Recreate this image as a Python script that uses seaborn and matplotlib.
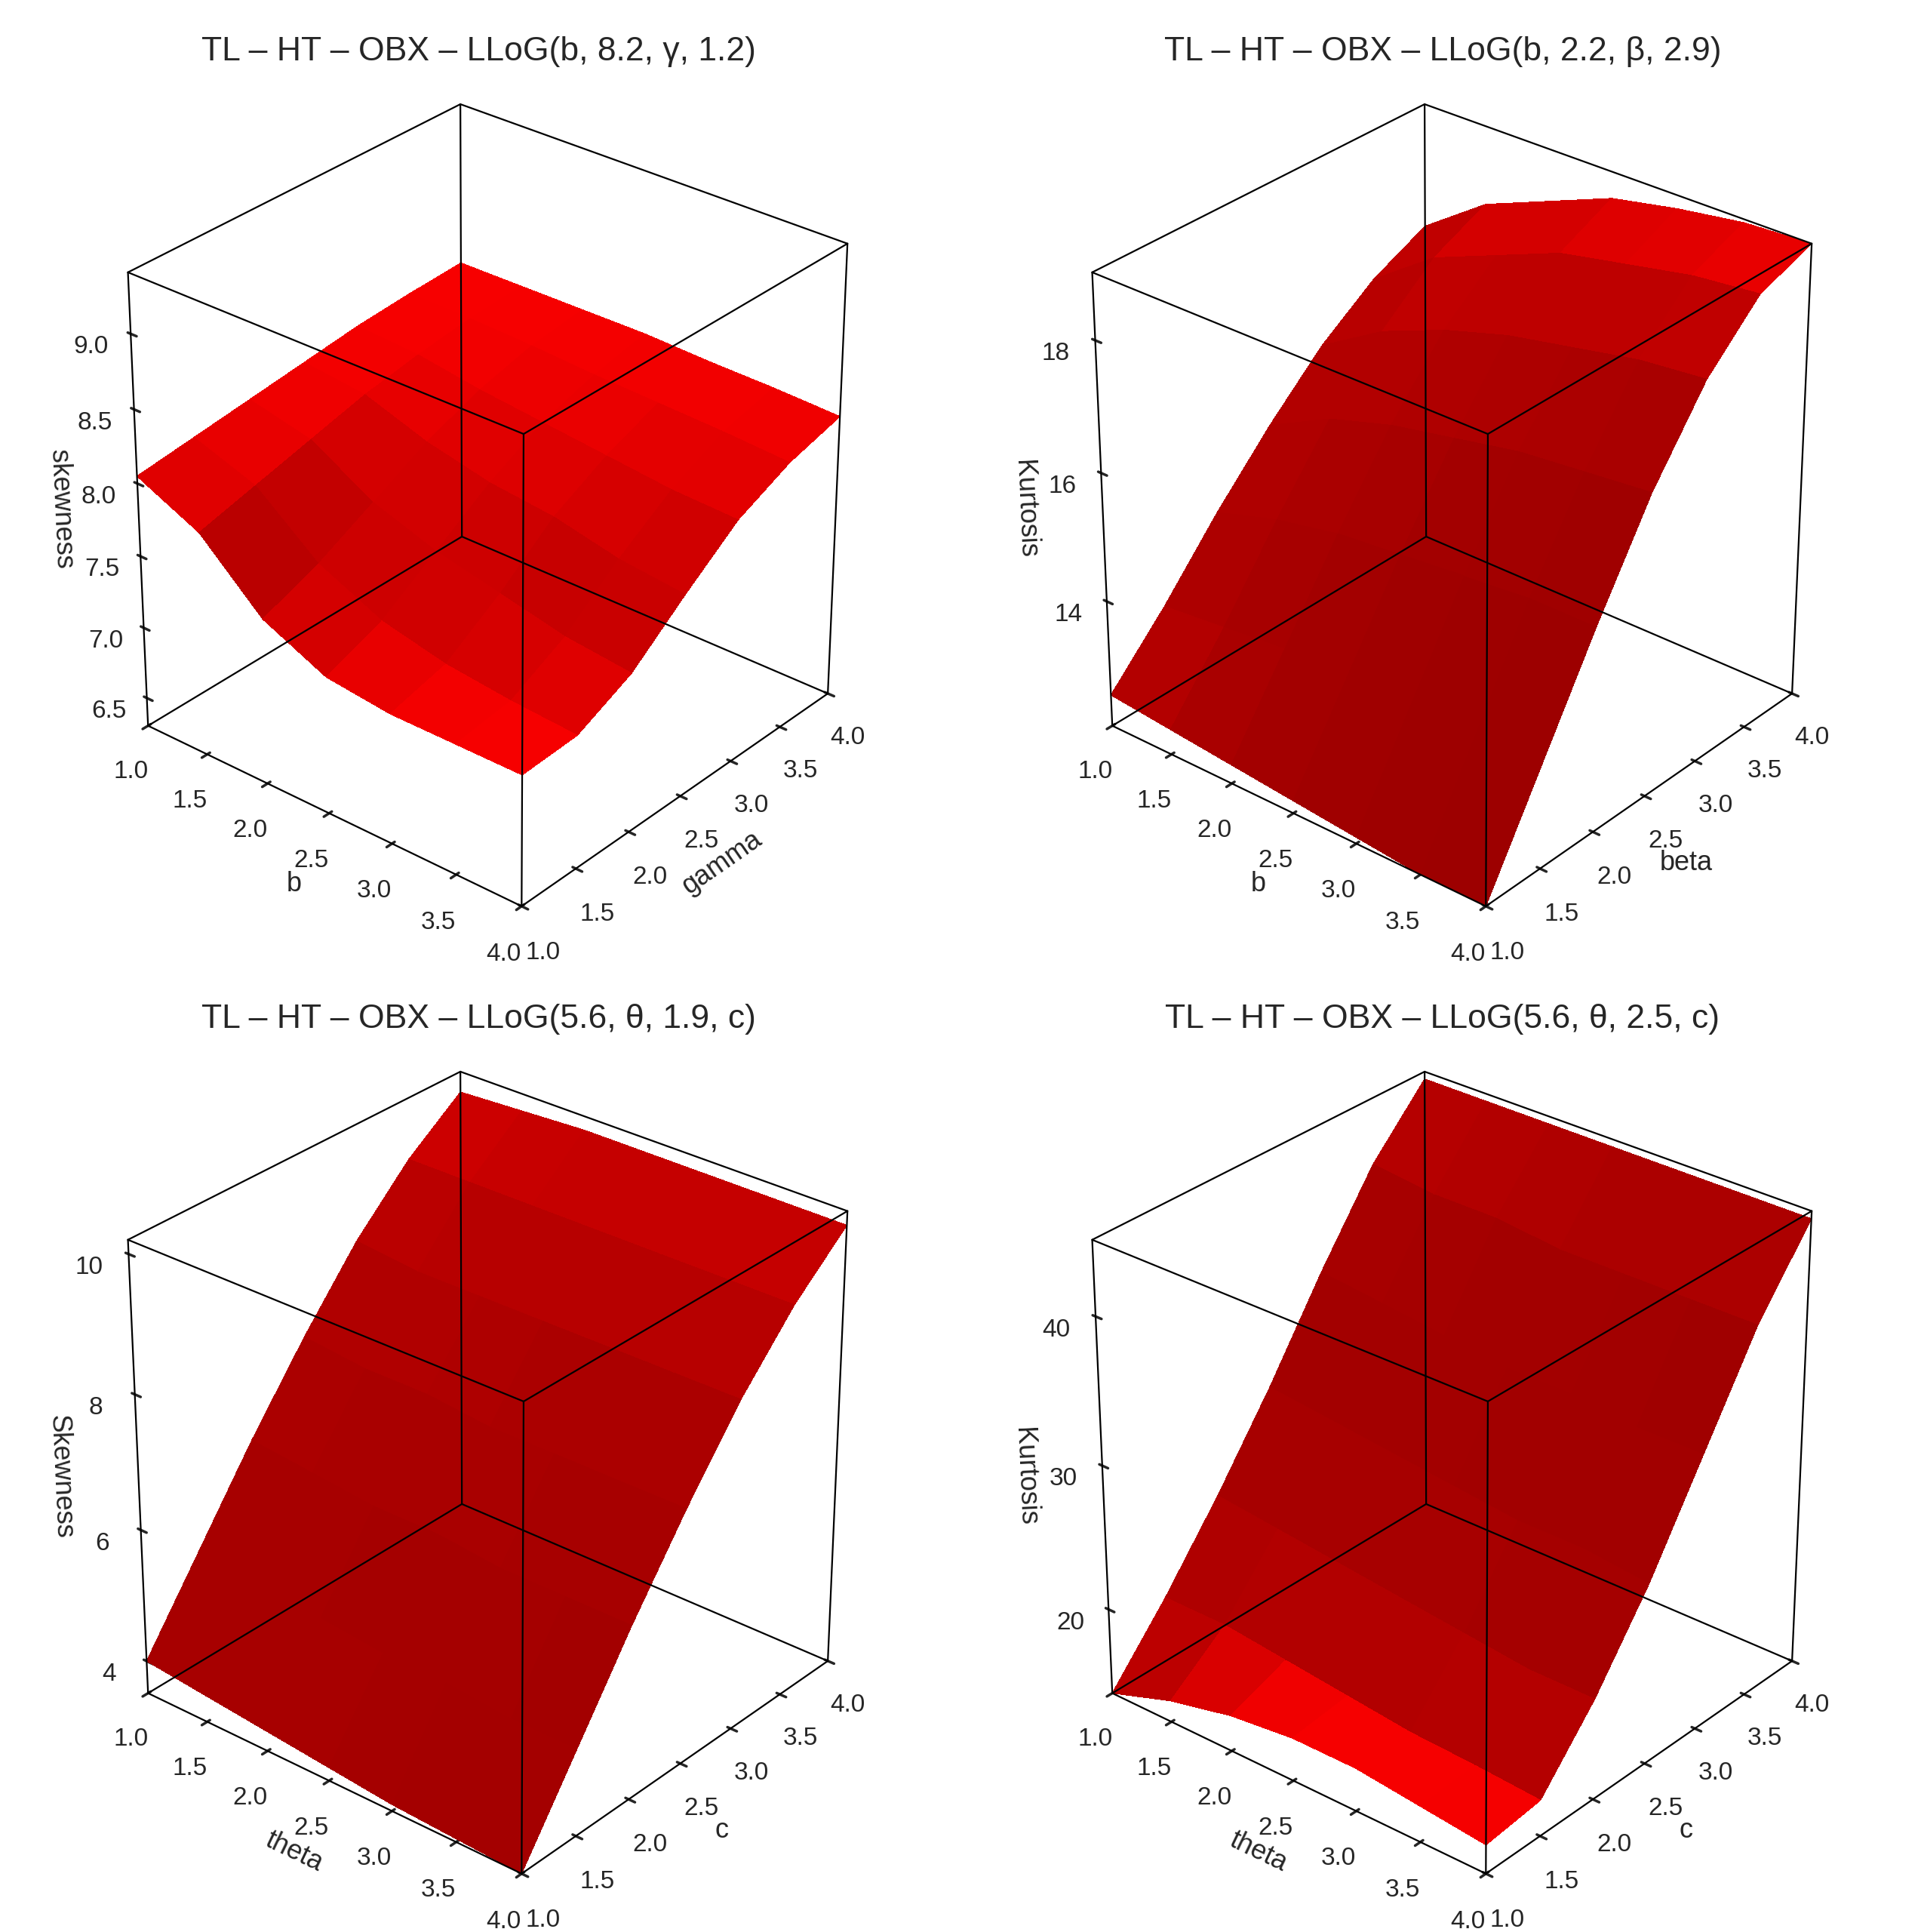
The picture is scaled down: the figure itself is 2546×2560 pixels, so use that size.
import numpy as np
import matplotlib.pyplot as plt
import seaborn as sns

sns.set_theme(style='white')
plt.rcParams['font.family'] = ['Liberation Sans', 'DejaVu Sans']

# shared parameter grid (1.0 .. 4.0)
grid = [1.0, 1.5, 2.0, 2.5, 3.0, 3.5, 4.0]

# panel 1: skewness over b (rows) and gamma (cols)
skew_b_gamma = [
    [8.05, 8.10, 8.15, 8.20, 8.25, 8.28, 8.30],
    [7.85, 7.95, 8.05, 8.15, 8.22, 8.27, 8.30],
    [7.45, 7.60, 7.80, 8.00, 8.15, 8.25, 8.30],
    [7.25, 7.40, 7.65, 7.90, 8.10, 8.22, 8.30],
    [7.20, 7.30, 7.55, 7.85, 8.05, 8.20, 8.28],
    [7.20, 7.25, 7.45, 7.75, 8.00, 8.18, 8.27],
    [7.20, 7.22, 7.40, 7.70, 7.98, 8.15, 8.25],
]
# panel 2: kurtosis over b and beta
kurt_b_beta = [
    [12.5, 13.4, 14.4, 15.3, 16.1, 16.7, 17.1],
    [12.4, 13.5, 14.7, 15.8, 16.7, 17.4, 17.8],
    [12.3, 13.6, 14.9, 16.1, 17.1, 17.8, 18.2],
    [12.2, 13.6, 15.0, 16.3, 17.4, 18.2, 18.6],
    [12.1, 13.6, 15.1, 16.5, 17.6, 18.4, 18.8],
    [12.0, 13.6, 15.2, 16.6, 17.8, 18.6, 18.95],
    [12.0, 13.6, 15.2, 16.7, 17.9, 18.7, 19.0],
]
# panel 3: skewness over theta and c
skew_theta_c = [
    [4.0, 5.2, 6.4, 7.5, 8.5, 9.3, 9.9],
    [3.9, 5.1, 6.3, 7.4, 8.4, 9.3, 9.95],
    [3.8, 5.0, 6.2, 7.4, 8.4, 9.3, 10.0],
    [3.7, 4.9, 6.2, 7.3, 8.4, 9.3, 10.0],
    [3.6, 4.9, 6.1, 7.3, 8.4, 9.3, 10.0],
    [3.55, 4.8, 6.1, 7.3, 8.4, 9.3, 10.0],
    [3.5, 4.8, 6.1, 7.3, 8.4, 9.3, 10.0],
]
# panel 4: kurtosis over theta and c
kurt_theta_c = [
    [14.0, 18.5, 23.5, 29.0, 35.0, 40.5, 44.5],
    [15.5, 18.5, 23.0, 28.5, 34.5, 40.0, 44.5],
    [16.5, 18.0, 22.5, 28.0, 34.0, 40.0, 44.5],
    [17.0, 17.5, 22.0, 27.5, 33.5, 39.5, 44.5],
    [17.0, 17.0, 21.5, 27.0, 33.5, 39.5, 44.5],
    [16.5, 16.8, 21.0, 27.0, 33.0, 39.5, 44.5],
    [16.0, 16.5, 21.0, 26.5, 33.0, 39.5, 44.5],
]

panels = [
    ('TL – HT – OBX – LLoG(b, 8.2, γ, 1.2)', 'b', 'gamma', 'skewness', skew_b_gamma, (6.3, 9.4), [6.5, 7.0, 7.5, 8.0, 8.5, 9.0], '%.1f'),
    ('TL – HT – OBX – LLoG(b, 2.2, β, 2.9)', 'b', 'beta', 'Kurtosis', kurt_b_beta, (12.0, 19.0), [14, 16, 18], '%d'),
    ('TL – HT – OBX – LLoG(5.6, θ, 1.9, c)', 'theta', 'c', 'Skewness', skew_theta_c, (3.5, 10.2), [4, 6, 8, 10], '%d'),
    ('TL – HT – OBX – LLoG(5.6, θ, 2.5, c)', 'theta', 'c', 'Kurtosis', kurt_theta_c, (14.0, 45.0), [20, 30, 40], '%d'),
]

fig = plt.figure(figsize=(12.73, 12.8), dpi=200)
g = np.array(grid)
X, Y = np.meshgrid(g, g, indexing='ij')
for i, (title, xl, yl, zl, z, zlim, zt, fmt) in enumerate(panels):
    ax = fig.add_subplot(2, 2, i + 1, projection='3d')
    Z = np.array(z)
    z0, z1 = zlim
    # per-face shading: flatter faces brighter, steep faces darker
    Zn = (Z - z0) / (z1 - z0) * 1.15
    Xn = (X - 1) / 3.0
    Yn = (Y - 1) / 3.0
    fc = np.zeros(Z.shape + (4,))
    fc[..., 3] = 1.0
    for r in range(Z.shape[0] - 1):
        for c in range(Z.shape[1] - 1):
            d1 = np.array([Xn[r+1, c+1] - Xn[r, c], Yn[r+1, c+1] - Yn[r, c], Zn[r+1, c+1] - Zn[r, c]])
            d2 = np.array([Xn[r, c+1] - Xn[r+1, c], Yn[r, c+1] - Yn[r+1, c], Zn[r, c+1] - Zn[r+1, c]])
            n = np.cross(d1, d2)
            nz = abs(n[2]) / np.linalg.norm(n)
            fc[r, c, 0] = 0.55 + 0.42 * nz ** 3
    ax.plot_surface(X, Y, Z, facecolors=fc, shade=False,
                    linewidth=0, antialiased=False, rstride=1, cstride=1)
    x0, x1, y0, y1 = 1, 4, 1, 4
    # box edges
    for (a, b) in [((x0, y0), (x1, y0)), ((x1, y0), (x1, y1)), ((x1, y1), (x0, y1)), ((x0, y1), (x0, y0))]:
        for zz in (z0, z1):
            ax.plot([a[0], b[0]], [a[1], b[1]], [zz, zz], color='black', lw=0.8)
    for (xx, yy) in [(x0, y0), (x1, y0), (x1, y1), (x0, y1)]:
        ax.plot([xx, xx], [yy, yy], [z0, z1], color='black', lw=0.8)
    ax.set_xlim(x0, x1); ax.set_ylim(y0, y1); ax.set_zlim(z0, z1)
    ax.set_box_aspect((1, 1, 1.05))
    ax.set_xticks(grid); ax.set_yticks(grid); ax.set_zticks(zt)
    ax.set_xticklabels(['%.1f' % v for v in grid], fontsize=12)
    ax.set_yticklabels(['%.1f' % v for v in grid], fontsize=12)
    ax.set_zticklabels([fmt % v for v in zt], fontsize=12)
    ax.set_xlabel(xl, fontsize=13, labelpad=2)
    ax.set_ylabel(yl, fontsize=13, labelpad=2)
    ax.set_zlabel(zl, fontsize=13, labelpad=2)
    ax.zaxis._axinfo['juggled'] = (1, 2, 0)
    for axis in (ax.xaxis, ax.yaxis, ax.zaxis):
        axis.pane.fill = False
        axis.pane.set_edgecolor('none')
        axis._axinfo['grid']['color'] = (1, 1, 1, 0)
        axis.line.set_color('none')
    ax.grid(False)
    ax.view_init(elev=30, azim=-50)
    ax.set_title(title, fontsize=16, pad=8)

plt.subplots_adjust(left=0.01, right=0.99, top=0.96, bottom=0.02, wspace=0.05, hspace=0.14)
fig.savefig('out.png', dpi=200)
